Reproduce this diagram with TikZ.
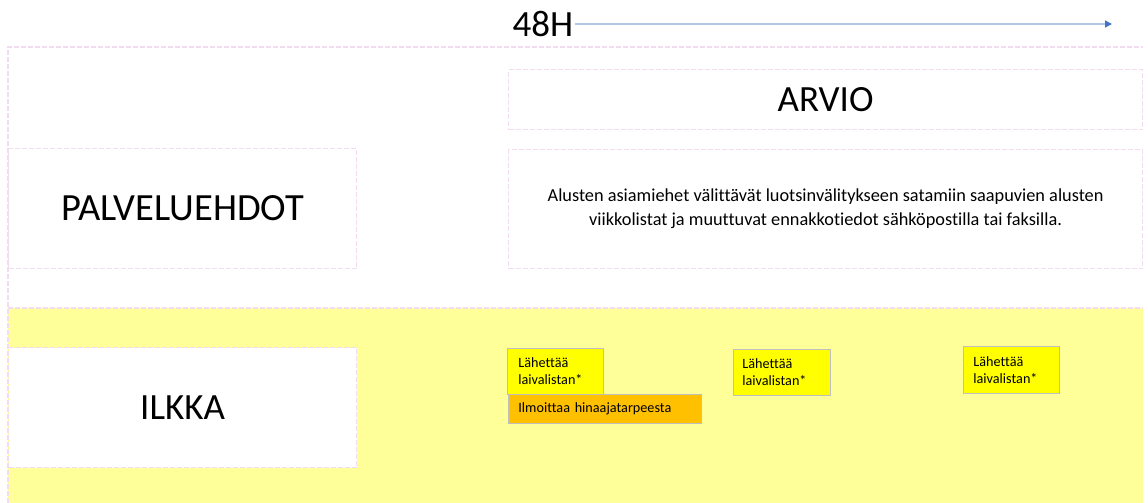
\documentclass[tikz,border=0pt]{standalone}
\usepackage{fontspec}
\setmainfont{Carlito}[Ligatures=NoCommon]
\usetikzlibrary{arrows.meta}
\definecolor{lanepink}{HTML}{F3DCF0}
\definecolor{laneyellow}{HTML}{FFFF99}
\definecolor{notebox}{HTML}{FFFF00}
\definecolor{noteorange}{HTML}{FFC000}
\definecolor{noteedge}{HTML}{BFBFBF}
\definecolor{arrowline}{HTML}{B4C7E7}
\definecolor{arrowhead}{HTML}{4472C4}
\tikzset{
  pinkdash/.style={draw=lanepink, line width=1.2pt, dash pattern=on 5pt off 2pt},
  lanebox/.style={pinkdash, fill=white, anchor=north west, inner sep=0pt},
  bigtext/.style={font=\fontsize{37}{44}\selectfont},
  note/.style={draw=noteedge, line width=0.8pt, fill=notebox, anchor=north west,
    align=left, inner sep=0pt, text width=#1, font=\fontsize{14.2}{17}\selectfont},
  note/.default=96pt
}
\begin{document}
\begin{tikzpicture}[x=1pt,y=-1pt]
\useasboundingbox (0,0) rectangle (1148,503);
% lanes
\fill[laneyellow] (8,308) rectangle (1143,503);
\draw[pinkdash] (8,503) -- (8,47) -- (1143,47);
\draw[pinkdash] (8,308) -- (1143,308);
% header boxes
\node[lanebox, minimum width=348pt, minimum height=120pt, font=\fontsize{38.5}{46}\selectfont] (palvelu) at (8,148) {PALVELUEHDOT};
\node[lanebox, minimum width=634pt, minimum height=60pt, bigtext] (arvio) at (508,69) {ARVIO};
\node[lanebox, minimum width=634pt, minimum height=119pt, align=center,
  font=\fontsize{18.3}{24}\selectfont] (desc) at (508,149)
  {Alusten asiamiehet välittävät luotsinvälitykseen satamiin saapuvien alusten\\
   viikkolistat ja muuttuvat ennakkotiedot sähköpostilla tai faksilla.};
\node[lanebox, minimum width=348pt, minimum height=120pt, bigtext] (ilkka) at (8,347) {ILKKA};
% timeline
\node[bigtext, inner sep=0pt] (h48) at (543,24) {48H};
\coordinate (tend) at (1112,24);
\draw[arrowline, line width=1.5pt, -{Triangle[length=7pt,width=7pt,fill=arrowhead,color=arrowhead]}]
  ([xshift=2pt]h48.east) -- (tend);
% notes
\node[note, minimum height=46pt] (n1) at (507,348)
  {\hspace*{11pt}Lähettää\\\hspace*{11pt}laivalistan*};
\node[note=193pt, minimum height=29pt, fill=noteorange] (n2) at (508,394)
  {\hspace*{10pt}Ilmoittaa hinaajatarpeesta};
\node[note=97pt, minimum height=46pt] (n3) at (733,349)
  {\hspace*{9pt}Lähettää\\\hspace*{9pt}laivalistan*};
\node[note, minimum height=47pt] (n4) at (963,346)
  {\hspace*{10pt}Lähettää\\\hspace*{10pt}laivalistan*\\[-8pt]};
\end{tikzpicture}
\end{document}
